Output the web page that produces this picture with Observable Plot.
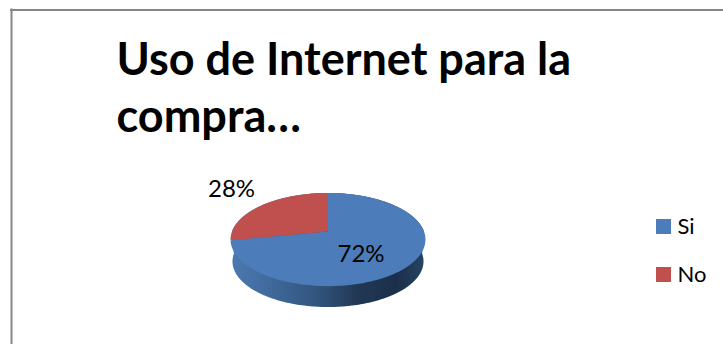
<!DOCTYPE html>
<html>
<head>
<meta charset="utf-8">
<script src="https://cdn.jsdelivr.net/npm/d3@7"></script>
<script src="https://cdn.jsdelivr.net/npm/@observablehq/plot@0.6"></script>
<style>
  html, body { margin: 0; padding: 0; background: #fff; }
  svg { display: block; }
</style>
</head>
<body>
<script>
// Chart content
const titleLines = ["Uso de Internet para la", "compra…"];
const categories = ["Si", "No"];
const shares = [72, 28];
const sliceColors = ["#4c7dba", "#c0504d"];

// Canvas and pie geometry
const W = 723, H = 344;
const apex = {x: 327.5, y: 231};
const radiusX = 96, radiusY = 45.2, tilt = 0.173;
const depth = 22, baseShrink = 0.98;
const fontFamily = "Lato, 'Noto Sans', sans-serif";

// Perspective view of a point on the unit disc, clockwise from twelve o'clock
function disc(angle, drop = 0, shrink = 1) {
  const u = Math.sin(angle), v = Math.cos(angle), w = 1 + tilt * v;
  return {
    x: apex.x + shrink * radiusX * u / w,
    y: apex.y + drop - shrink * radiusY * v / w
  };
}

// Slice outlines walk around the disc from the cumulative shares
const total = d3.sum(shares);
let running = 0;
const slicePoints = categories.flatMap((category, i) => {
  const a0 = (running / total) * 2 * Math.PI;
  running += shares[i];
  const a1 = (running / total) * 2 * Math.PI;
  const steps = Math.ceil((a1 - a0) * 40);
  const rim = d3.range(steps + 1).map(k => disc(a0 + (a1 - a0) * k / steps));
  return [apex, ...rim].map(p => ({...p, category}));
});

// The side wall: back half of the top rim joined to the front half of the base
const wallSteps = 160;
const wallPoints = [
  ...d3.range(wallSteps + 1).map(k => disc(Math.PI * (0.5 + k / wallSteps), depth, baseShrink)),
  ...d3.range(wallSteps + 1).map(k => disc(Math.PI * (1.5 + k / wallSteps)))
];

// Horizontal shading of the side wall
function wallGradient() {
  const defs = d3.create("svg:defs");
  const grad = defs.append("linearGradient")
    .attr("id", "wall").attr("gradientUnits", "userSpaceOnUse")
    .attr("x1", 230).attr("x2", 425).attr("y1", 0).attr("y2", 0);
  [[0, "#4a79b1"], [0.2, "#406a9c"], [0.45, "#31547c"], [0.65, "#213854"], [0.85, "#1b2f4a"], [1, "#284464"]]
    .forEach(([o, c]) => grad.append("stop").attr("offset", o).attr("stop-color", c));
  return defs.node();
}

const legendRows = categories.map((category, i) => ({category, top: 219 + i * 48}));
const labelSpots = [{x: 360.5, y: 254}, {x: 231, y: 188.5}];

const chart = Plot.plot({
  width: W,
  height: H,
  margin: 0,
  x: {domain: [0, W], range: [0, W], axis: null},
  y: {domain: [0, H], range: [0, H], axis: null},
  color: {domain: categories, range: sliceColors},
  style: {background: "#fff", fontFamily},
  marks: [
    wallGradient,
    // Outer frame, open on the right and bottom
    Plot.ruleY([9.5], {x1: 10, x2: W, stroke: "#868686", strokeWidth: 2}),
    Plot.ruleX([11], {y1: 8.5, y2: H, stroke: "#868686", strokeWidth: 2}),
    // Pie
    Plot.line(wallPoints, {x: "x", y: "y", fill: "url(#wall)", stroke: "none", curve: "linear"}),
    Plot.line(slicePoints, {x: "x", y: "y", z: "category", fill: "category", stroke: "none", curve: "linear"}),
    // Value labels
    Plot.text(categories.map((c, i) => ({label: `${shares[i]}%`, ...labelSpots[i]})), {
      x: "x", y: "y", text: "label", fill: "#000", fontSize: 24, textAnchor: "middle"
    }),
    // Title
    Plot.text(titleLines.map((line, i) => ({line, y: 60 + i * 57.5})), {
      x: () => 116, y: "y", text: "line", fill: "#000", fontSize: 45, fontWeight: 700, textAnchor: "start"
    }),
    // Legend
    Plot.rect(legendRows, {
      x1: () => 656, x2: () => 671, y1: "top", y2: d => d.top + 15, fill: "category"
    }),
    Plot.text(legendRows, {
      x: () => 677, y: d => d.top + 7.5, text: "category", fill: "#000", fontSize: 22, textAnchor: "start"
    })
  ]
});
document.body.append(chart);
</script>
</body>
</html>
